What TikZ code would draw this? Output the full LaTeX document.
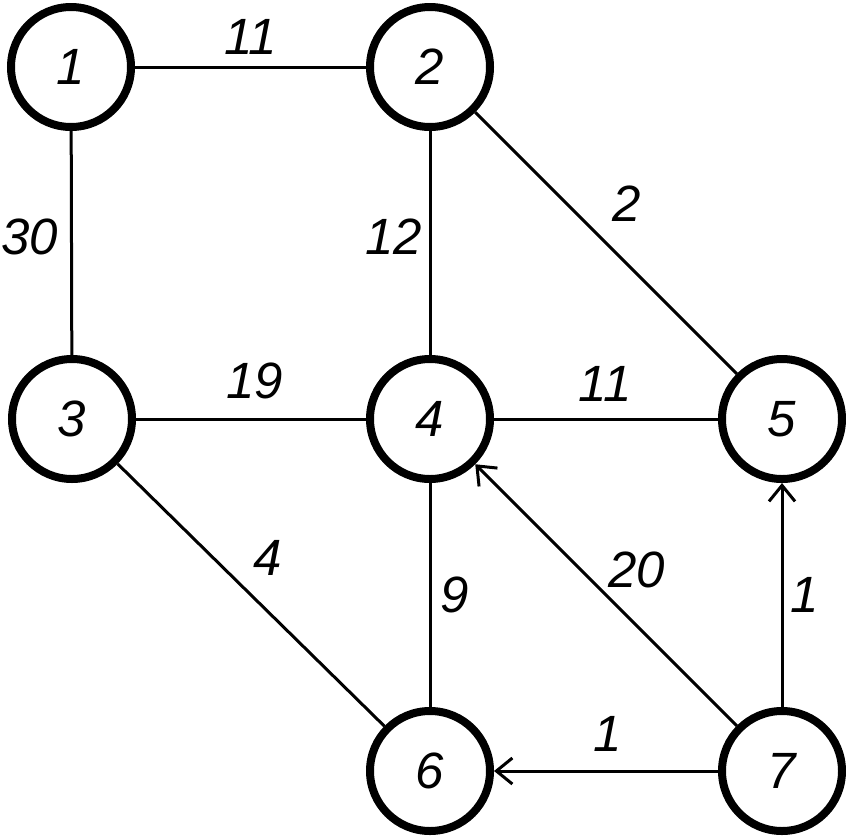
\documentclass[tikz,border=0pt]{standalone}
\usepackage{fontspec}
\setmainfont{Liberation Sans}
\usetikzlibrary{arrows.meta}
\begin{document}
\begin{tikzpicture}[x=1pt,y=-1pt,
  vtx/.style={circle,draw,line width=8pt,minimum size=120pt,inner sep=0pt,font=\fontsize{51}{51}\selectfont\itshape},
  edg/.style={line width=3pt},
  arr/.style={edg,-{Straight Barb[length=16pt,width=26pt,line width=3pt]}},
  lbl/.style={inner sep=0pt,font=\fontsize{51}{51}\selectfont\itshape}]
\useasboundingbox (0,0) rectangle (846,836);
\node[vtx] (n1) at (71,67) {1};
\node[vtx] (n2) at (430,67) {2};
\node[vtx] (n3) at (72,419) {3};
\node[vtx] (n4) at (430,419) {4};
\node[vtx] (n5) at (782,419) {5};
\node[vtx] (n6) at (430,771) {6};
\node[vtx] (n7) at (782,771) {7};
\draw[edg] (n1) -- node[lbl,shift={(0,-30)}] (l12) {11} (n2);
\draw[edg] (n1) -- node[lbl,shift={(-42,-6)}] (l13) {30} (n3);
\draw[edg] (n2) -- node[lbl,shift={(-36,-6)}] (l24) {12} (n4);
\draw[edg] (n2) -- node[lbl,shift={(21,-39)}] (l25) {2} (n5);
\draw[edg] (n3) -- node[lbl,shift={(4,-38)}] (l34) {19} (n4);
\draw[edg] (n4) -- node[lbl,shift={(-1,-35)}] (l45) {11} (n5);
\draw[edg] (n3) -- node[lbl,shift={(17,-37)}] (l36) {4} (n6);
\draw[edg] (n4) -- node[lbl,shift={(25,0)}] (l46) {9} (n6);
\draw[arr] (n7) -- node[lbl,shift={(31,-25)}] (l74) {20} (n4);
\draw[arr] (n7) -- node[lbl,shift={(23,0)}] (l75) {1} (n5);
\draw[arr] (n7) -- node[lbl,shift={(2,-37)}] (l76) {1} (n6);
\end{tikzpicture}
\end{document}
